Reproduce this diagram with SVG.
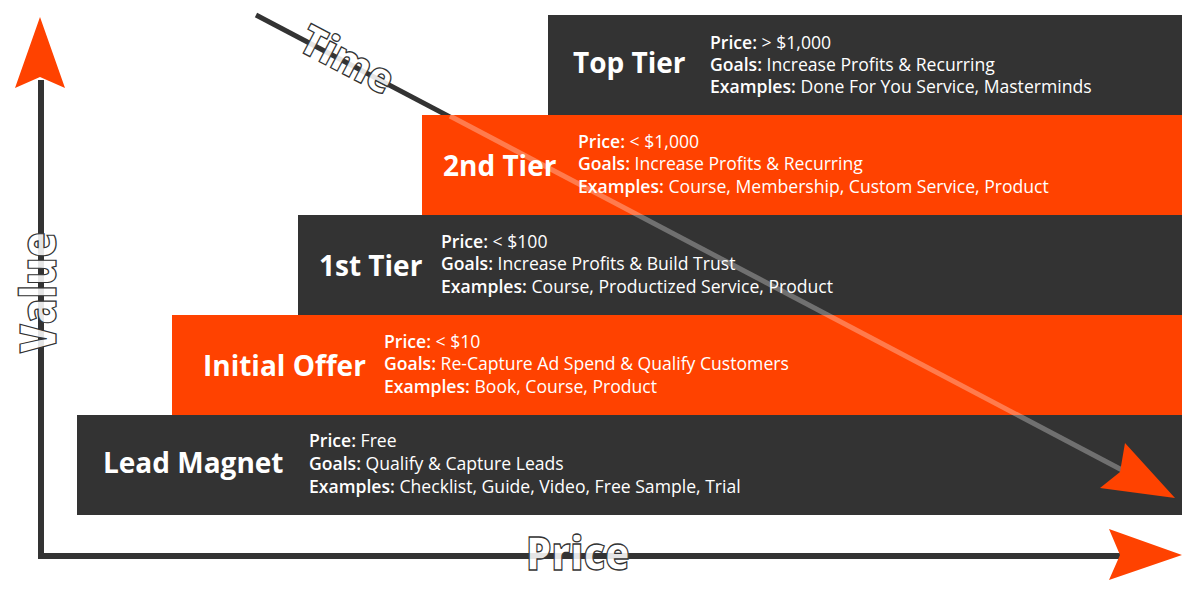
<svg xmlns="http://www.w3.org/2000/svg" width="1200" height="589" viewBox="0 0 1200 589">
<style>
.dark{fill:#333333}
.orange{fill:#FF4200}
.title{font-family:"Open Sans","Noto Sans",sans-serif;font-weight:700;font-size:28px;fill:#ffffff}
.det{font-family:"Open Sans","Noto Sans",sans-serif;font-weight:400;font-size:17.6px;fill:#ffffff}
.det tspan.b{font-weight:600}
.axis{font-family:"Open Sans","Noto Sans",sans-serif;font-weight:800;fill:#ffffff;fill-opacity:0.9;stroke:#333333;stroke-width:1.3}
.arrow{fill:#FF4200}
</style>
<rect width="1200" height="589" fill="#ffffff"/>
<g id="time-line-under">
<line x1="256" y1="15" x2="1122" y2="470" stroke="#333333" stroke-width="5"/>
</g>
<g id="top-tier">
<rect class="dark" x="548" y="15" width="634" height="100"/>
<text class="title" x="573" y="73">Top Tier</text>
<text class="det" x="710" y="49"><tspan class="b">Price:</tspan> &gt; $1,000</text>
<text class="det" x="710" y="71"><tspan class="b">Goals:</tspan> Increase Profits &amp; Recurring</text>
<text class="det" x="710" y="93"><tspan class="b">Examples:</tspan> Done For You Service, Masterminds</text>
</g>
<g id="second-tier">
<rect class="orange" x="422" y="115" width="760" height="100"/>
<text class="title" x="443" y="176">2nd Tier</text>
<text class="det" x="578" y="148"><tspan class="b">Price:</tspan> &lt; $1,000</text>
<text class="det" x="578" y="170"><tspan class="b">Goals:</tspan> Increase Profits &amp; Recurring</text>
<text class="det" x="578" y="193"><tspan class="b">Examples:</tspan> Course, Membership, Custom Service, Product</text>
</g>
<g id="first-tier">
<rect class="dark" x="298" y="215" width="884" height="100"/>
<text class="title" x="319" y="276">1st Tier</text>
<text class="det" x="441" y="248"><tspan class="b">Price:</tspan> &lt; $100</text>
<text class="det" x="441" y="270"><tspan class="b">Goals:</tspan> Increase Profits &amp; Build Trust</text>
<text class="det" x="441" y="293"><tspan class="b">Examples:</tspan> Course, Productized Service, Product</text>
</g>
<g id="initial-offer">
<rect class="orange" x="172" y="315" width="1010" height="100"/>
<text class="title" x="203" y="376">Initial Offer</text>
<text class="det" x="384" y="348"><tspan class="b">Price:</tspan> &lt; $10</text>
<text class="det" x="384" y="370"><tspan class="b">Goals:</tspan> Re-Capture Ad Spend &amp; Qualify Customers</text>
<text class="det" x="384" y="393"><tspan class="b">Examples:</tspan> Book, Course, Product</text>
</g>
<g id="lead-magnet">
<rect class="dark" x="77" y="415" width="1105" height="100"/>
<text class="title" x="103" y="473">Lead Magnet</text>
<text class="det" x="309" y="447"><tspan class="b">Price:</tspan> Free</text>
<text class="det" x="309" y="470"><tspan class="b">Goals:</tspan> Qualify &amp; Capture Leads</text>
<text class="det" x="309" y="493"><tspan class="b">Examples:</tspan> Checklist, Guide, Video, Free Sample, Trial</text>
</g>
<g id="connectors">
<line x1="450" y1="116" x2="1122" y2="470" stroke="#ffffff" stroke-opacity="0.3" stroke-width="5"/>
<polygon class="arrow" points="1175,498 1100,488 1120,472 1125,443"/>
<path d="M41,80 L41,556 L1125,556" fill="none" stroke="#333333" stroke-width="6" stroke-linejoin="miter"/>
<polygon class="arrow" points="40,17 65,88 40,77 15,88"/>
<polygon class="arrow" points="1182,555 1109,580 1120,555 1109,529"/>
</g>
<g id="axis-labels">
<text class="axis" x="578" y="570" font-size="46" text-anchor="middle" textLength="104" lengthAdjust="spacingAndGlyphs">Price</text>
<text class="axis" transform="translate(56,292.5) rotate(-90)" x="0" y="0" font-size="50" text-anchor="middle" textLength="121" lengthAdjust="spacingAndGlyphs">Value</text>
<text class="axis" transform="translate(346,62) rotate(27.7)" x="0" y="12" font-size="42" text-anchor="middle" textLength="100" lengthAdjust="spacingAndGlyphs">Time</text>
</g>
</svg>
